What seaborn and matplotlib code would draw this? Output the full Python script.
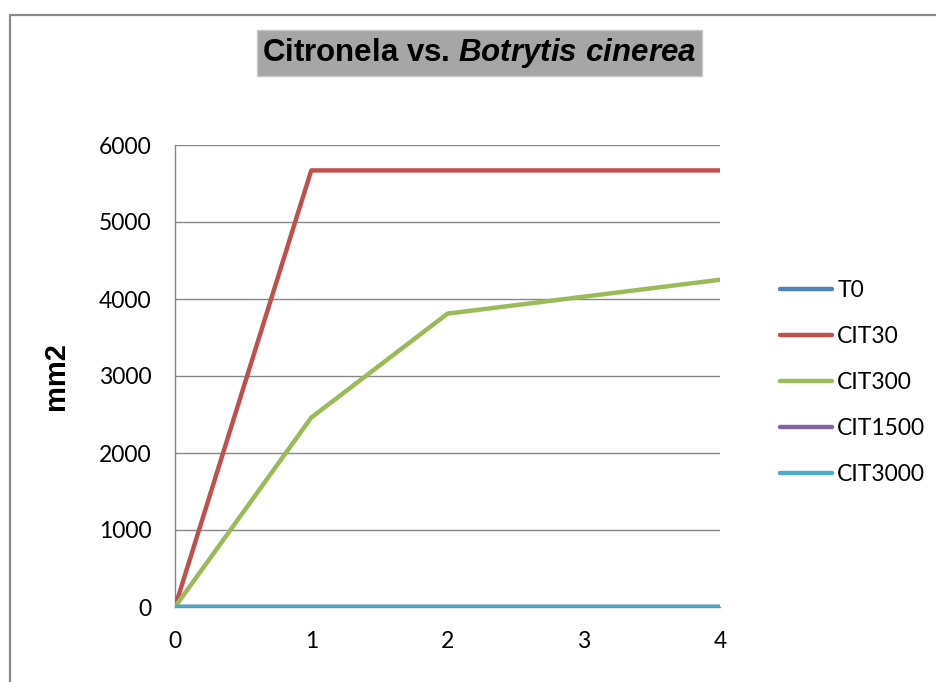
import matplotlib
matplotlib.use("Agg")
import matplotlib.pyplot as plt
from matplotlib.lines import Line2D
import seaborn as sns
import pandas as pd

# Days of measurement and colony area (mm2) per treatment
days = [0, 1, 2, 3, 4]
series_names = ["T0", "CIT30", "CIT300", "CIT1500", "CIT3000"]
t0 = [0, 0, 0, 0, 0]
cit30 = [0, 5670, 5670, 5670, 5670]
cit300 = [0, 2460, 3810, 4030, 4250]
cit1500 = [0, 0, 0, 0, 0]
cit3000 = [0, 0, 0, 0, 0]
y_ticks = [0, 1000, 2000, 3000, 4000, 5000, 6000]
x_ticks = [0, 1, 2, 3, 4]

colors = ["#4F81BD", "#C0504D", "#9BBB59", "#8064A2", "#4BACC6"]

values = [t0, cit30, cit300, cit1500, cit3000]
df = pd.DataFrame({
    "dia": days * len(series_names),
    "mm2": [v for s in values for v in s],
    "serie": [n for n in series_names for _ in days],
})

sns.set_style("white")
plt.rcParams["font.family"] = ["Lato", "DejaVu Sans"]
plt.rcParams["text.color"] = "#000000"
plt.rcParams["axes.labelcolor"] = "#000000"
plt.rcParams["mathtext.fontset"] = "custom"
plt.rcParams["mathtext.rm"] = "Liberation Sans:bold"
plt.rcParams["mathtext.it"] = "Liberation Sans:italic:bold"

fig = plt.figure(figsize=(9.36, 6.82), dpi=100)
ax = fig.add_axes([175 / 936, 75 / 682, 545 / 936, 462 / 682])

sns.lineplot(data=df, x="dia", y="mm2", hue="serie", hue_order=series_names,
             palette=colors, linewidth=3.2, ax=ax, legend=False,
             solid_capstyle="round", zorder=3)

ax.set_xlim(0, 4)
ax.set_ylim(0, 6000)
ax.set_xticks(x_ticks)
ax.set_yticks(y_ticks)
ax.set_xticklabels([str(v) for v in x_ticks])
ax.set_yticklabels([str(v) for v in y_ticks])
ax.tick_params(axis="x", labelsize=16.5, labelcolor="#000000", length=6,
               width=1, direction="out", pad=11, color="#868686")
ax.tick_params(axis="y", labelsize=16.5, labelcolor="#000000", length=0,
               pad=17)
ax.set_xlabel("")
ax.set_ylabel("mm2", fontsize=21, fontweight="bold", color="#000000",
              family=["Liberation Sans", "DejaVu Sans"])
ax.yaxis.set_label_coords((70 - 175) / 545, 0.5)
ax.yaxis.grid(True, color="#868686", linewidth=1.0)
ax.xaxis.grid(False)
ax.set_axisbelow(True)
for side in ["top", "right"]:
    ax.spines[side].set_visible(False)
for side in ["left", "bottom"]:
    ax.spines[side].set_color("#868686")
    ax.spines[side].set_linewidth(1.0)

# Legend
handles = [Line2D([0], [0], color=c, linewidth=3.2, solid_capstyle="round")
           for c in colors]
fig.legend(handles, series_names, loc="center left",
           bbox_to_anchor=(780 / 936, 1 - 382.5 / 682), frameon=False,
           fontsize=16.5, handlelength=2.25, handletextpad=0.25,
           labelspacing=1.1, borderpad=0, borderaxespad=0,
           labelcolor="#000000")

# Title on grey band
fig.text(479.5 / 936, 1 - 53 / 682,
         "Citronela vs. $\\mathit{Botrytis\\ cinerea}$",
         ha="center", va="center", fontsize=22.5, fontweight="bold",
         color="#000000", family=["Liberation Sans", "DejaVu Sans"],
         bbox=dict(boxstyle="square,pad=0.18", facecolor="#A6A6A6",
                   edgecolor="#C8C8C8", linewidth=1))

# Chart area frame (top and left edges)
fig.add_artist(Line2D([10 / 936, 10 / 936], [0, 1 - 15 / 682],
                      transform=fig.transFigure, color="#898989", linewidth=1.6))
fig.add_artist(Line2D([10 / 936, 1], [1 - 15 / 682, 1 - 15 / 682],
                      transform=fig.transFigure, color="#898989", linewidth=1.6))

fig.savefig("out.png", dpi=100)
